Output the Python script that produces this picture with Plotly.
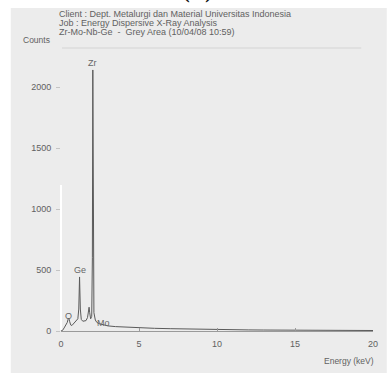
import plotly.graph_objects as go

# ---- data ----
energy_kev = [0.0, 0.1, 0.2, 0.3, 0.4, 0.45, 0.5, 0.55, 0.62, 0.7, 0.8, 0.9, 1.0, 1.08,
              1.14, 1.19, 1.24, 1.3, 1.4, 1.5, 1.6, 1.7, 1.76, 1.8, 1.84, 1.9, 1.97,
              2.01, 2.04, 2.07, 2.11, 2.2, 2.3, 2.45, 2.6, 2.8, 3.0, 3.5, 4.0, 4.5,
              5.0, 6.0, 7.0, 8.0, 9.0, 10.0, 11.0, 12.0, 13.0, 14.0, 15.0, 16.0,
              17.0, 18.0, 19.0, 20.0]
counts = [0, 5, 25, 45, 70, 95, 105, 80, 50, 45, 60, 75, 85, 100,
          180, 443, 180, 95, 80, 80, 85, 110, 160, 195, 150, 100, 120,
          600, 2140, 700, 150, 90, 70, 60, 55, 48, 42, 36, 32, 28,
          25, 22, 19, 16, 14, 12, 10, 9, 8, 7, 6, 6,
          5, 5, 4, 4]

peak_labels = ["O", "Ge", "Zr", "Mo"]
peak_x = [0.45, 1.19, 2.04, 2.75]
peak_y = [125, 500, 2195, 65]

x_ticks = [0, 5, 10, 15, 20]
y_ticks = [0, 500, 1000, 1500, 2000]

header_lines = ["Client : Dept. Metalurgi dan Material Universitas Indonesia",
                "Job : Energy Dispersive X-Ray Analysis",
                "Zr-Mo-Nb-Ge  -  Grey Area (10/04/08 10:59)"]

# ---- layout geometry (pixels) ----
W, H = 390, 376
L, R, T, B = 61, 12, 48, 45
pw, ph = W - L - R, H - T - B


def px(x):
    return (x - L) / pw


def py(y):
    return (H - B - y) / ph


FONT = "Liberation Sans, Arial, sans-serif"
TXT = "#616161"

fig = go.Figure()
fig.add_trace(go.Scatter(x=energy_kev, y=counts, mode="lines",
                         line=dict(color="#5a5a5a", width=1), hoverinfo="skip"))

ann = []
for lab, xv, yv in zip(peak_labels, peak_x, peak_y):
    ann.append(dict(x=xv, y=yv, xref="x", yref="y", text=lab, showarrow=False,
                    font=dict(family=FONT, size=9, color="#666666"),
                    xanchor="center", yanchor="middle"))
for i, t in enumerate(header_lines):
    ann.append(dict(x=px(57), y=py(14 + 9 * i), xref="paper", yref="paper", text=t,
                    showarrow=False, xanchor="left", yanchor="middle",
                    font=dict(family=FONT, size=9, color=TXT)))
ann.append(dict(x=px(36), y=py(40), xref="paper", yref="paper", text="Counts",
                showarrow=False, xanchor="center", yanchor="middle",
                font=dict(family=FONT, size=8.5, color=TXT)))
ann.append(dict(x=px(381), y=py(361), xref="paper", yref="paper", text="Energy (keV)",
                showarrow=False, xanchor="right", yanchor="middle",
                font=dict(family=FONT, size=8.5, color=TXT)))
ann.append(dict(x=px(200), y=py(5), xref="paper", yref="paper", text="<b>(II)</b>",
                showarrow=False, xanchor="center", yanchor="bottom",
                font=dict(family="Liberation Serif, Times New Roman, serif", size=20,
                          color="#111111")))

shapes = [
    dict(type="rect", xref="paper", yref="paper", x0=px(10), x1=px(392),
         y0=py(8), y1=py(373), fillcolor="#ececec", line=dict(width=0), layer="below"),
    dict(type="line", xref="paper", yref="paper", x0=px(62), x1=px(366),
         y0=py(48), y1=py(48), line=dict(color="#d4d4d4", width=1)),
    dict(type="line", xref="paper", yref="paper", x0=px(61), x1=px(61),
         y0=py(330), y1=py(185), line=dict(color="#ffffff", width=2)),
]

fig.update_layout(
    width=W, height=H, margin=dict(l=L, r=R, t=T, b=B),
    paper_bgcolor="white", plot_bgcolor="rgba(0,0,0,0)",
    showlegend=False, shapes=shapes, annotations=ann,
    xaxis=dict(range=[0, 20], tickvals=x_ticks, showgrid=False, zeroline=False,
               showline=True, linecolor="#9a9a9a", linewidth=1,
               ticks="inside", ticklen=3, tickcolor="#9a9a9a",
               ticklabelstandoff=4,
               tickfont=dict(family=FONT, size=9, color=TXT)),
    yaxis=dict(range=[0, 2320], tickvals=y_ticks, showgrid=False, zeroline=False,
               showline=False, ticks="outside", ticklen=4, tickcolor="#c4c4c4",
               ticklabelstandoff=3,
               tickfont=dict(family=FONT, size=9, color=TXT)),
)

fig.write_html("out.html")
